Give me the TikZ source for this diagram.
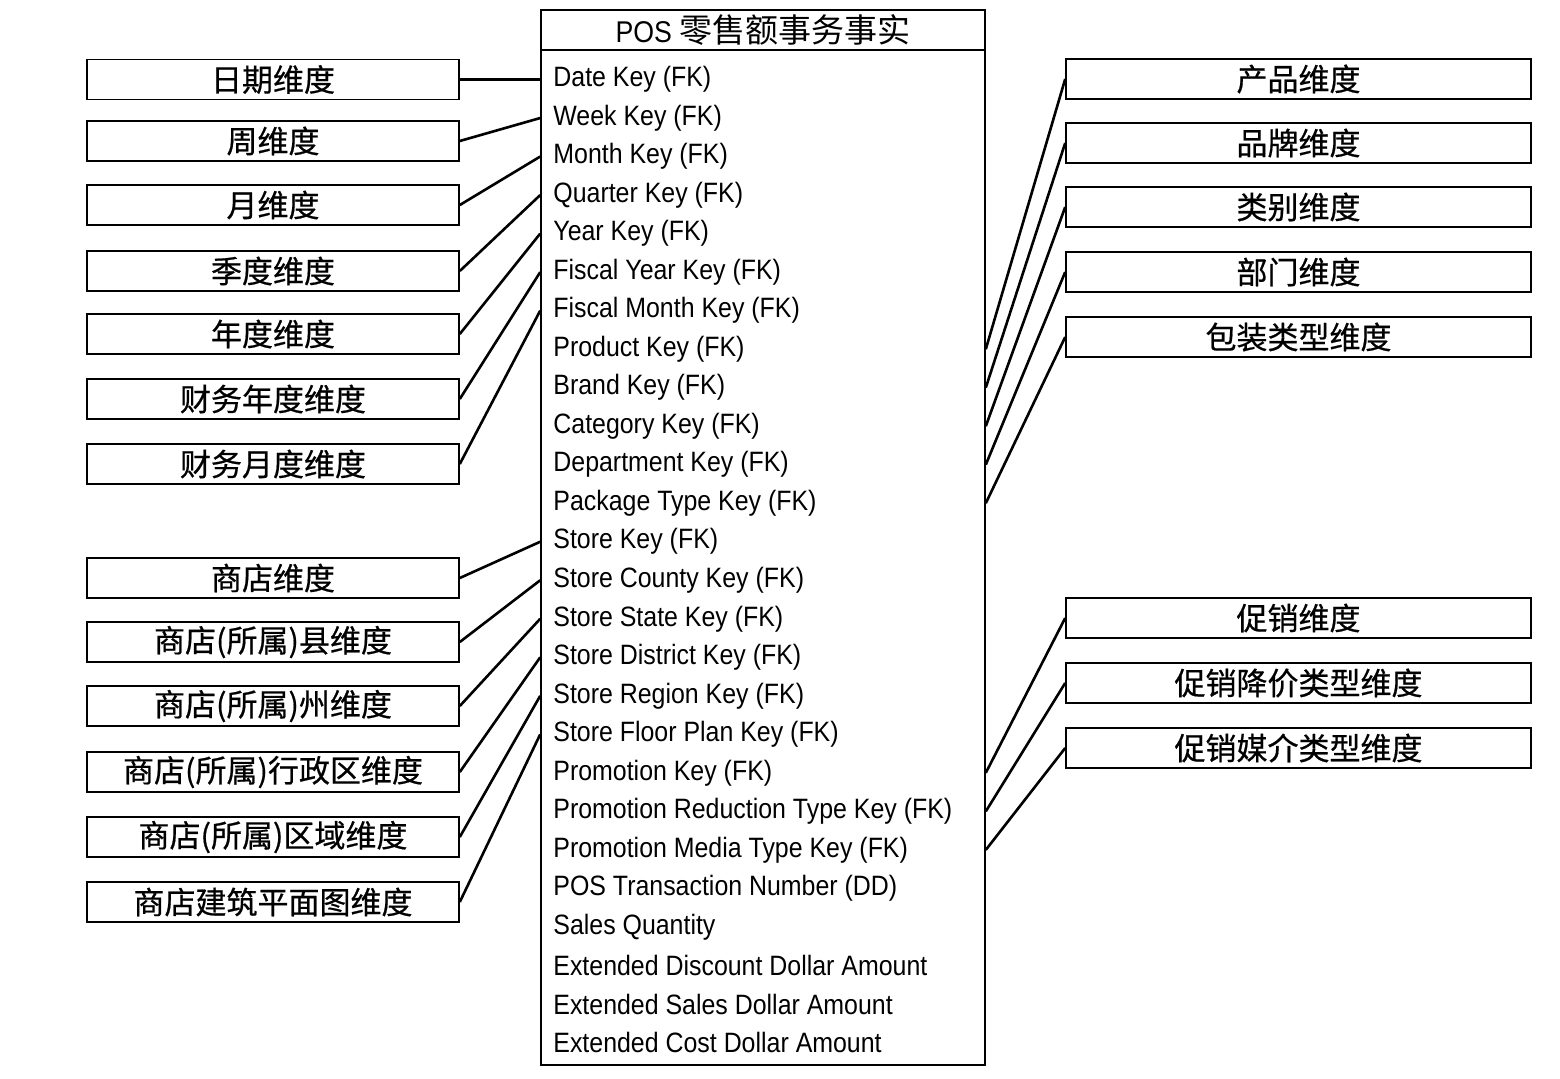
\documentclass[tikz,border=0pt]{standalone}
\usepackage{fontspec}
\setmainfont{Liberation Sans}[FakeStretch=0.89]
\newfontfamily\cjk{Noto Sans CJK SC}
\newfontfamily\cjkdim{Noto Sans CJK SC}[FakeBold=0.6]
\usetikzlibrary{positioning}

\tikzset{
  dimbox/.style={draw, line width=0.8pt, minimum width=186pt, minimum height=20pt,
    inner sep=0pt, font=\cjkdim\fontsize{15.5pt}{15.5pt}\selectfont},
  rdimbox/.style={dimbox, minimum width=232.5pt},
  factrow/.style={anchor=west, inner sep=0pt, font=\fontsize{14pt}{14pt}\selectfont},
  link/.style={line width=1.3pt}
}

\begin{document}
\begin{tikzpicture}[x=0.5pt,y=-0.5pt]
   \useasboundingbox (0,0) rectangle (1560,1078);
   % fact table
   \node[draw, line width=0.8pt, minimum width=222pt, minimum height=527.5pt] (fact) at (763,537.5) {};
   \node[draw, line width=0.8pt, minimum width=222pt, minimum height=20pt, inner sep=0pt, anchor=north,
     font=\fontsize{15pt}{15pt}\selectfont] (title) at (fact.north) {POS {\cjk\fontsize{16.5pt}{16.5pt}\selectfont 零售额事务事实}};
   \foreach \t [count=\i] in {Date Key (FK), Week Key (FK), Month Key (FK), Quarter Key (FK),
     Year Key (FK), Fiscal Year Key (FK), Fiscal Month Key (FK), Product Key (FK),
     Brand Key (FK), Category Key (FK), Department Key (FK), Package Type Key (FK),
     Store Key (FK), Store County Key (FK), Store State Key (FK), Store District Key (FK),
     Store Region Key (FK), Store Floor Plan Key (FK), Promotion Key (FK),
     Promotion Reduction Type Key (FK), Promotion Media Type Key (FK),
     POS Transaction Number (DD), Sales Quantity, Extended Discount Dollar Amount,
     Extended Sales Dollar Amount, Extended Cost Dollar Amount}
     \node[factrow] (r\i) at (553,{79.5+(\i-1)*38.52}) {\t};

   % left dimensions
   \foreach \t/\y [count=\i] in {日期维度/79.5, 周维度/141, 月维度/205, 季度维度/271,
     年度维度/334, 财务年度维度/399, 财务月度维度/464, 商店维度/578,
     商店(所属)县维度/642, 商店(所属)州维度/706, 商店(所属)行政区维度/772,
     商店(所属)区域维度/837, 商店建筑平面图维度/902}
     \node[dimbox] (l\i) at (273,\y) {\t};

   % right dimensions
   \foreach \t/\y [count=\i] in {产品维度/79, 品牌维度/143, 类别维度/207, 部门维度/272,
     包装类型维度/337, 促销维度/618, 促销降价类型维度/683, 促销媒介类型维度/748}
     \node[rdimbox] (p\i) at (1298.5,\y) {\t};

   % connectors
   \foreach \d/\r in {1/1,2/2,3/3,4/4,5/5,6/6,7/7,8/13,9/14,10/15,11/16,12/17,13/18}
     \draw[link] (l\d.east) -- (fact.west |- r\r);
   \foreach \d/\r in {1/8,2/9,3/10,4/11,5/12,6/19,7/20,8/21}
     \draw[link] (fact.east |- r\r) -- (p\d.west);
\end{tikzpicture}
\end{document}
